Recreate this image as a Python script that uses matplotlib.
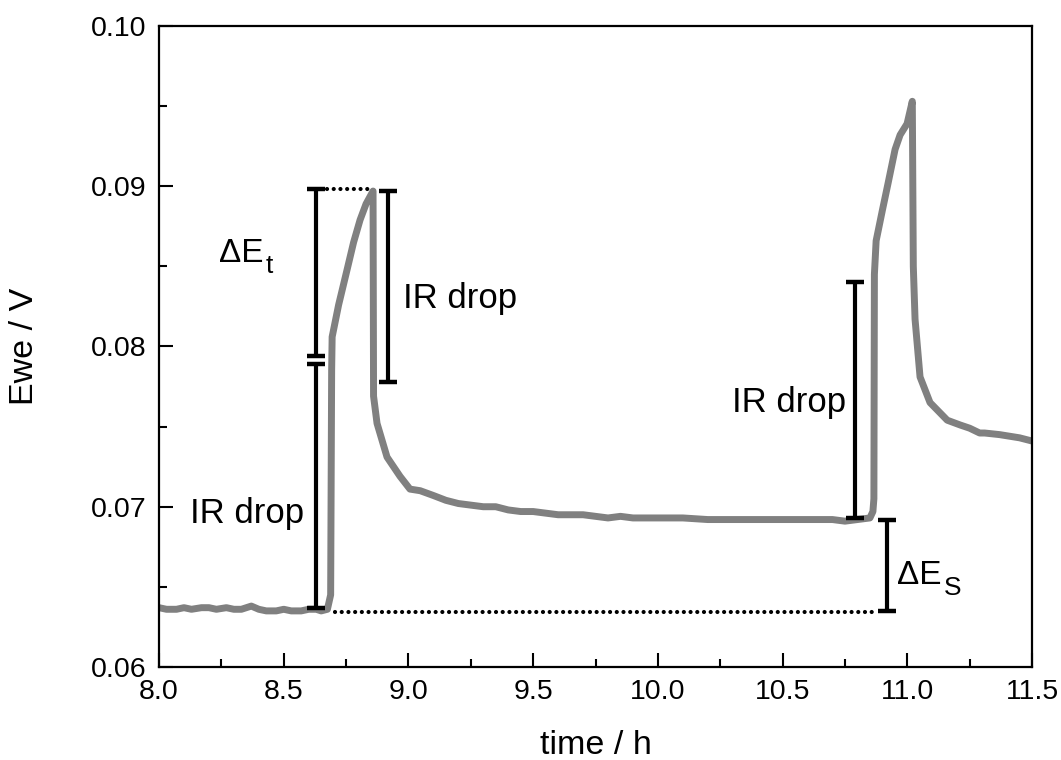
#!/usr/bin/env python3
'''Potential transient with IR drop and Delta E annotations.'''

import matplotlib
matplotlib.use('Agg')
import matplotlib.pyplot as plt
from matplotlib.ticker import MultipleLocator, AutoMinorLocator

plt.rcParams['font.family'] = ['Liberation Sans', 'DejaVu Sans']

# measured potential (h, V)
time_h = [8.00, 8.03, 8.07, 8.10, 8.13, 8.17, 8.20, 8.23, 8.27, 8.30, 8.33,
          8.37, 8.40, 8.43, 8.47, 8.50, 8.53, 8.57, 8.60, 8.63, 8.65, 8.675,
          8.688, 8.692, 8.694, 8.72, 8.754, 8.78, 8.806, 8.83, 8.858,
          8.860, 8.874, 8.914, 8.966, 9.006, 9.047, 9.10, 9.15, 9.20, 9.25,
          9.30, 9.35, 9.40, 9.45, 9.50, 9.55, 9.60, 9.65, 9.70, 9.75, 9.80,
          9.85, 9.90, 9.95, 10.00, 10.10, 10.20, 10.30, 10.40, 10.50, 10.60,
          10.70, 10.75, 10.80, 10.85, 10.862, 10.866, 10.868, 10.875, 10.90,
          10.923, 10.951, 10.971, 10.999, 11.020, 11.024, 11.031, 11.051,
          11.091, 11.160, 11.212, 11.25, 11.29, 11.31, 11.37, 11.45, 11.50]
ewe_v = [0.0637, 0.0636, 0.0636, 0.0637, 0.0636, 0.0637, 0.0637, 0.0636,
         0.0637, 0.0636, 0.0636, 0.0638, 0.0636, 0.0635, 0.0635, 0.0636,
         0.0635, 0.0635, 0.0636, 0.0636, 0.0635, 0.0636,
         0.0645, 0.0785, 0.0806, 0.0826, 0.0848, 0.0865, 0.0879, 0.0889,
         0.0897, 0.0769, 0.0752, 0.0731, 0.0719, 0.0711, 0.0710, 0.0707,
         0.0704, 0.0702, 0.0701, 0.0700, 0.0700, 0.0698, 0.0697, 0.0697,
         0.0696, 0.0695, 0.0695, 0.0695, 0.0694, 0.0693, 0.0694, 0.0693,
         0.0693, 0.0693, 0.0693, 0.0692, 0.0692, 0.0692, 0.0692, 0.0692,
         0.0692, 0.0691, 0.0692, 0.0693, 0.0697, 0.0705, 0.0845, 0.0866,
         0.0885, 0.0902, 0.0923, 0.0932, 0.0939, 0.0953, 0.0850, 0.0817,
         0.0781, 0.0765, 0.0754, 0.0751, 0.0749, 0.0746, 0.0746, 0.0745,
         0.0743, 0.0741]

# annotation bars: x position, lower and upper potential
bar_x = [8.630, 8.630, 8.918, 10.791, 10.917]
bar_lo = [0.0794, 0.0637, 0.0778, 0.0693, 0.0635]
bar_hi = [0.0898, 0.0789, 0.0897, 0.0840, 0.0692]

# dotted guide lines: level, start, end
guide_y = [0.0898, 0.0634]
guide_x0 = [8.672, 8.705]
guide_x1 = [8.840, 10.870]

# IR drop labels: x (left edge), y (baseline)
ir_x = [8.124, 8.978, 10.298]
ir_y = [0.0690, 0.0824, 0.0759]

# Delta E labels: x (left edge), y (baseline), subscript
de_x = [8.241, 10.959]
de_y = [0.0853, 0.0652]
de_sub = ['t', 'S']

fig = plt.figure(figsize=(10.61, 7.6), dpi=100)
ax = fig.add_axes([0.1499, 0.1224, 0.8228, 0.8434])

ax.plot(time_h, ewe_v, color='#808080', lw=5, solid_joinstyle='round',
        zorder=2)

for y, x0, x1 in zip(guide_y, guide_x0, guide_x1):
    ax.plot([x0, x1], [y, y], color='black', lw=3,
            linestyle=(0, (0.01, 1.6)), dash_capstyle='round', zorder=3)

ax.vlines(bar_x, bar_lo, bar_hi, color='black', lw=3, zorder=4)
ax.plot(bar_x, bar_lo, ls='none', marker='_', ms=13, mew=3.2,
        color='black', zorder=4)
ax.plot(bar_x, bar_hi, ls='none', marker='_', ms=13, mew=3.2,
        color='black', zorder=4)

for x, y in zip(ir_x, ir_y):
    ax.text(x, y, 'IR drop', fontsize=25, ha='left', va='baseline')

for x, y, sub in zip(de_x, de_y, de_sub):
    main = ax.text(x, y, 'ΔE', fontsize=24, ha='left', va='baseline')
    ax.annotate(sub, xy=(1, 0), xycoords=main, xytext=(1.5, -3),
                textcoords='offset points', fontsize=19,
                ha='left', va='baseline')

ax.set_xlim(8.0, 11.5)
ax.set_ylim(0.06, 0.10)
ax.xaxis.set_major_locator(MultipleLocator(0.5))
ax.xaxis.set_minor_locator(AutoMinorLocator(2))
ax.yaxis.set_major_locator(MultipleLocator(0.01))
ax.yaxis.set_minor_locator(AutoMinorLocator(2))
ax.xaxis.set_major_formatter(plt.FormatStrFormatter('%.1f'))
ax.yaxis.set_major_formatter(plt.FormatStrFormatter('%.2f'))

ax.tick_params(which='both', direction='in', top=False, right=False,
               width=1.5, labelsize=20.5)
ax.tick_params(which='major', length=10, pad=9)
ax.tick_params(which='minor', length=6)
for sp in ax.spines.values():
    sp.set_linewidth(1.6)

ax.set_xlabel('time / h', fontsize=24.5)
ax.set_ylabel('Ewe / V', fontsize=24.5)
ax.xaxis.set_label_coords(0.5, -0.098)
ax.yaxis.set_label_coords(-0.136, 0.5)

fig.savefig('out.png', dpi=100, facecolor='white')
